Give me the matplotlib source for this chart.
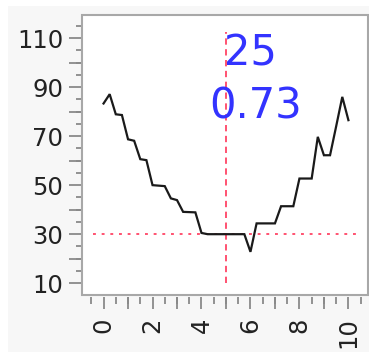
import matplotlib
matplotlib.use("Agg")
import matplotlib.pyplot as plt
from matplotlib.patches import Rectangle
from matplotlib.ticker import MultipleLocator
import numpy as np

# Sampled curve
x_values = np.arange(0, 10.01, 0.25)
y_values = [83.3, 87.1, 78.9, 78.6, 68.7, 68.1, 60.6, 60.2, 50.0, 49.8,
            49.6, 44.6, 43.9, 39.1, 39.0, 38.9, 30.5, 30.0, 30.0, 30.0,
            30.0, 30.0, 30.0, 30.0, 22.8, 34.4, 34.4, 34.4, 34.4, 41.4,
            41.4, 41.4, 52.7, 52.7, 52.7, 69.7, 62.2, 62.2, 74.0, 86.0,
            76.5]

# Cursor readout
cursor_x = 5
cursor_y = 30
readout_top = "25"
readout_bottom = "0.73"

x_tick_labels = ["0", "2", "4", "6", "8", "10"]
y_tick_labels = ["10", "30", "50", "70", "90", "110"]

W, H = 369, 354
fig = plt.figure(figsize=(W / 100, H / 100), dpi=100, facecolor="white")
fig.patches.append(Rectangle((8 / W, 2 / H), 1 - 8 / W, 1 - 8 / H,
                             transform=fig.transFigure, facecolor="#f7f7f7",
                             edgecolor="none", zorder=-10))

ax = fig.add_axes([82 / W, (H - 294.5) / H, (368 - 82) / W, (294.5 - 14.5) / H])
ax.set_facecolor("white")
ax.set_xlim(-0.88, 10.8)
ax.set_ylim(5.4, 119.6)

for s in ax.spines.values():
    s.set_visible(False)
ax.spines["bottom"].set_position(("outward", 2))
ax.add_patch(Rectangle((0, 0), 1, 1, transform=ax.transAxes, fill=False,
                       edgecolor="#a8a8a8", lw=1.5, clip_on=False, zorder=5))

ax.plot(x_values, y_values, color="#1a1a1a", lw=1.6, zorder=3,
        solid_joinstyle="miter")

ax.vlines(cursor_x, 10, 112.5, colors="#ff4466", lw=1.3,
          linestyles=(0, (3.5, 2.5)), zorder=2)
ax.hlines(cursor_y, -0.45, 10.3, colors="#ff4466", lw=1.3,
          linestyles=(0, (1.6, 3.2)), zorder=2)

ax.text(4.93, 98.9, readout_top, color="#3333ff", fontsize=30,
        ha="left", va="baseline", zorder=4)
ax.text(4.33, 77.3, readout_bottom, color="#3333ff", fontsize=30,
        ha="left", va="baseline", zorder=4)

ax.set_xticks(np.arange(0, 11, 2))
ax.set_xticklabels(x_tick_labels, rotation=90)
ax.xaxis.set_minor_locator(MultipleLocator(0.5))
ax.set_yticks(np.arange(10, 111, 20))
ax.set_yticklabels(y_tick_labels)
ax.yaxis.set_minor_locator(MultipleLocator(5))

# long ticks every 1 on x / every 10 on y, short ones in between
ax.tick_params(axis="x", which="major", length=8.5, width=1.3,
               color="#8a8a8a", labelsize=17.5, labelcolor="#222222", pad=6)
ax.tick_params(axis="x", which="minor", length=5, width=1.3, color="#8a8a8a")
ax.tick_params(axis="y", which="major", length=9.5, width=1.3,
               color="#8a8a8a", labelsize=17.5, labelcolor="#222222", pad=4)
ax.tick_params(axis="y", which="minor", length=4.5, width=1.3, color="#8a8a8a")

# integer x positions and tens on y also get long ticks (unlabelled)
sec_x = ax.secondary_xaxis(location=0)
sec_x.set_xticks(np.arange(1, 11, 2))
sec_x.set_xticklabels([])
sec_x.spines["bottom"].set_visible(False)
sec_x.spines["bottom"].set_position(("outward", 2))
sec_x.tick_params(axis="x", which="major", length=8.5, width=1.3, color="#8a8a8a")
sec_x.tick_params(axis="x", which="minor", length=0)

sec_y = ax.secondary_yaxis(location=0)
sec_y.set_yticks(np.arange(20, 111, 20))
sec_y.set_yticklabels([])
sec_y.spines["left"].set_visible(False)
sec_y.tick_params(axis="y", which="major", length=9.5, width=1.3, color="#8a8a8a")
sec_y.tick_params(axis="y", which="minor", length=0)

fig.savefig("out.png", dpi=100, facecolor=fig.get_facecolor())
